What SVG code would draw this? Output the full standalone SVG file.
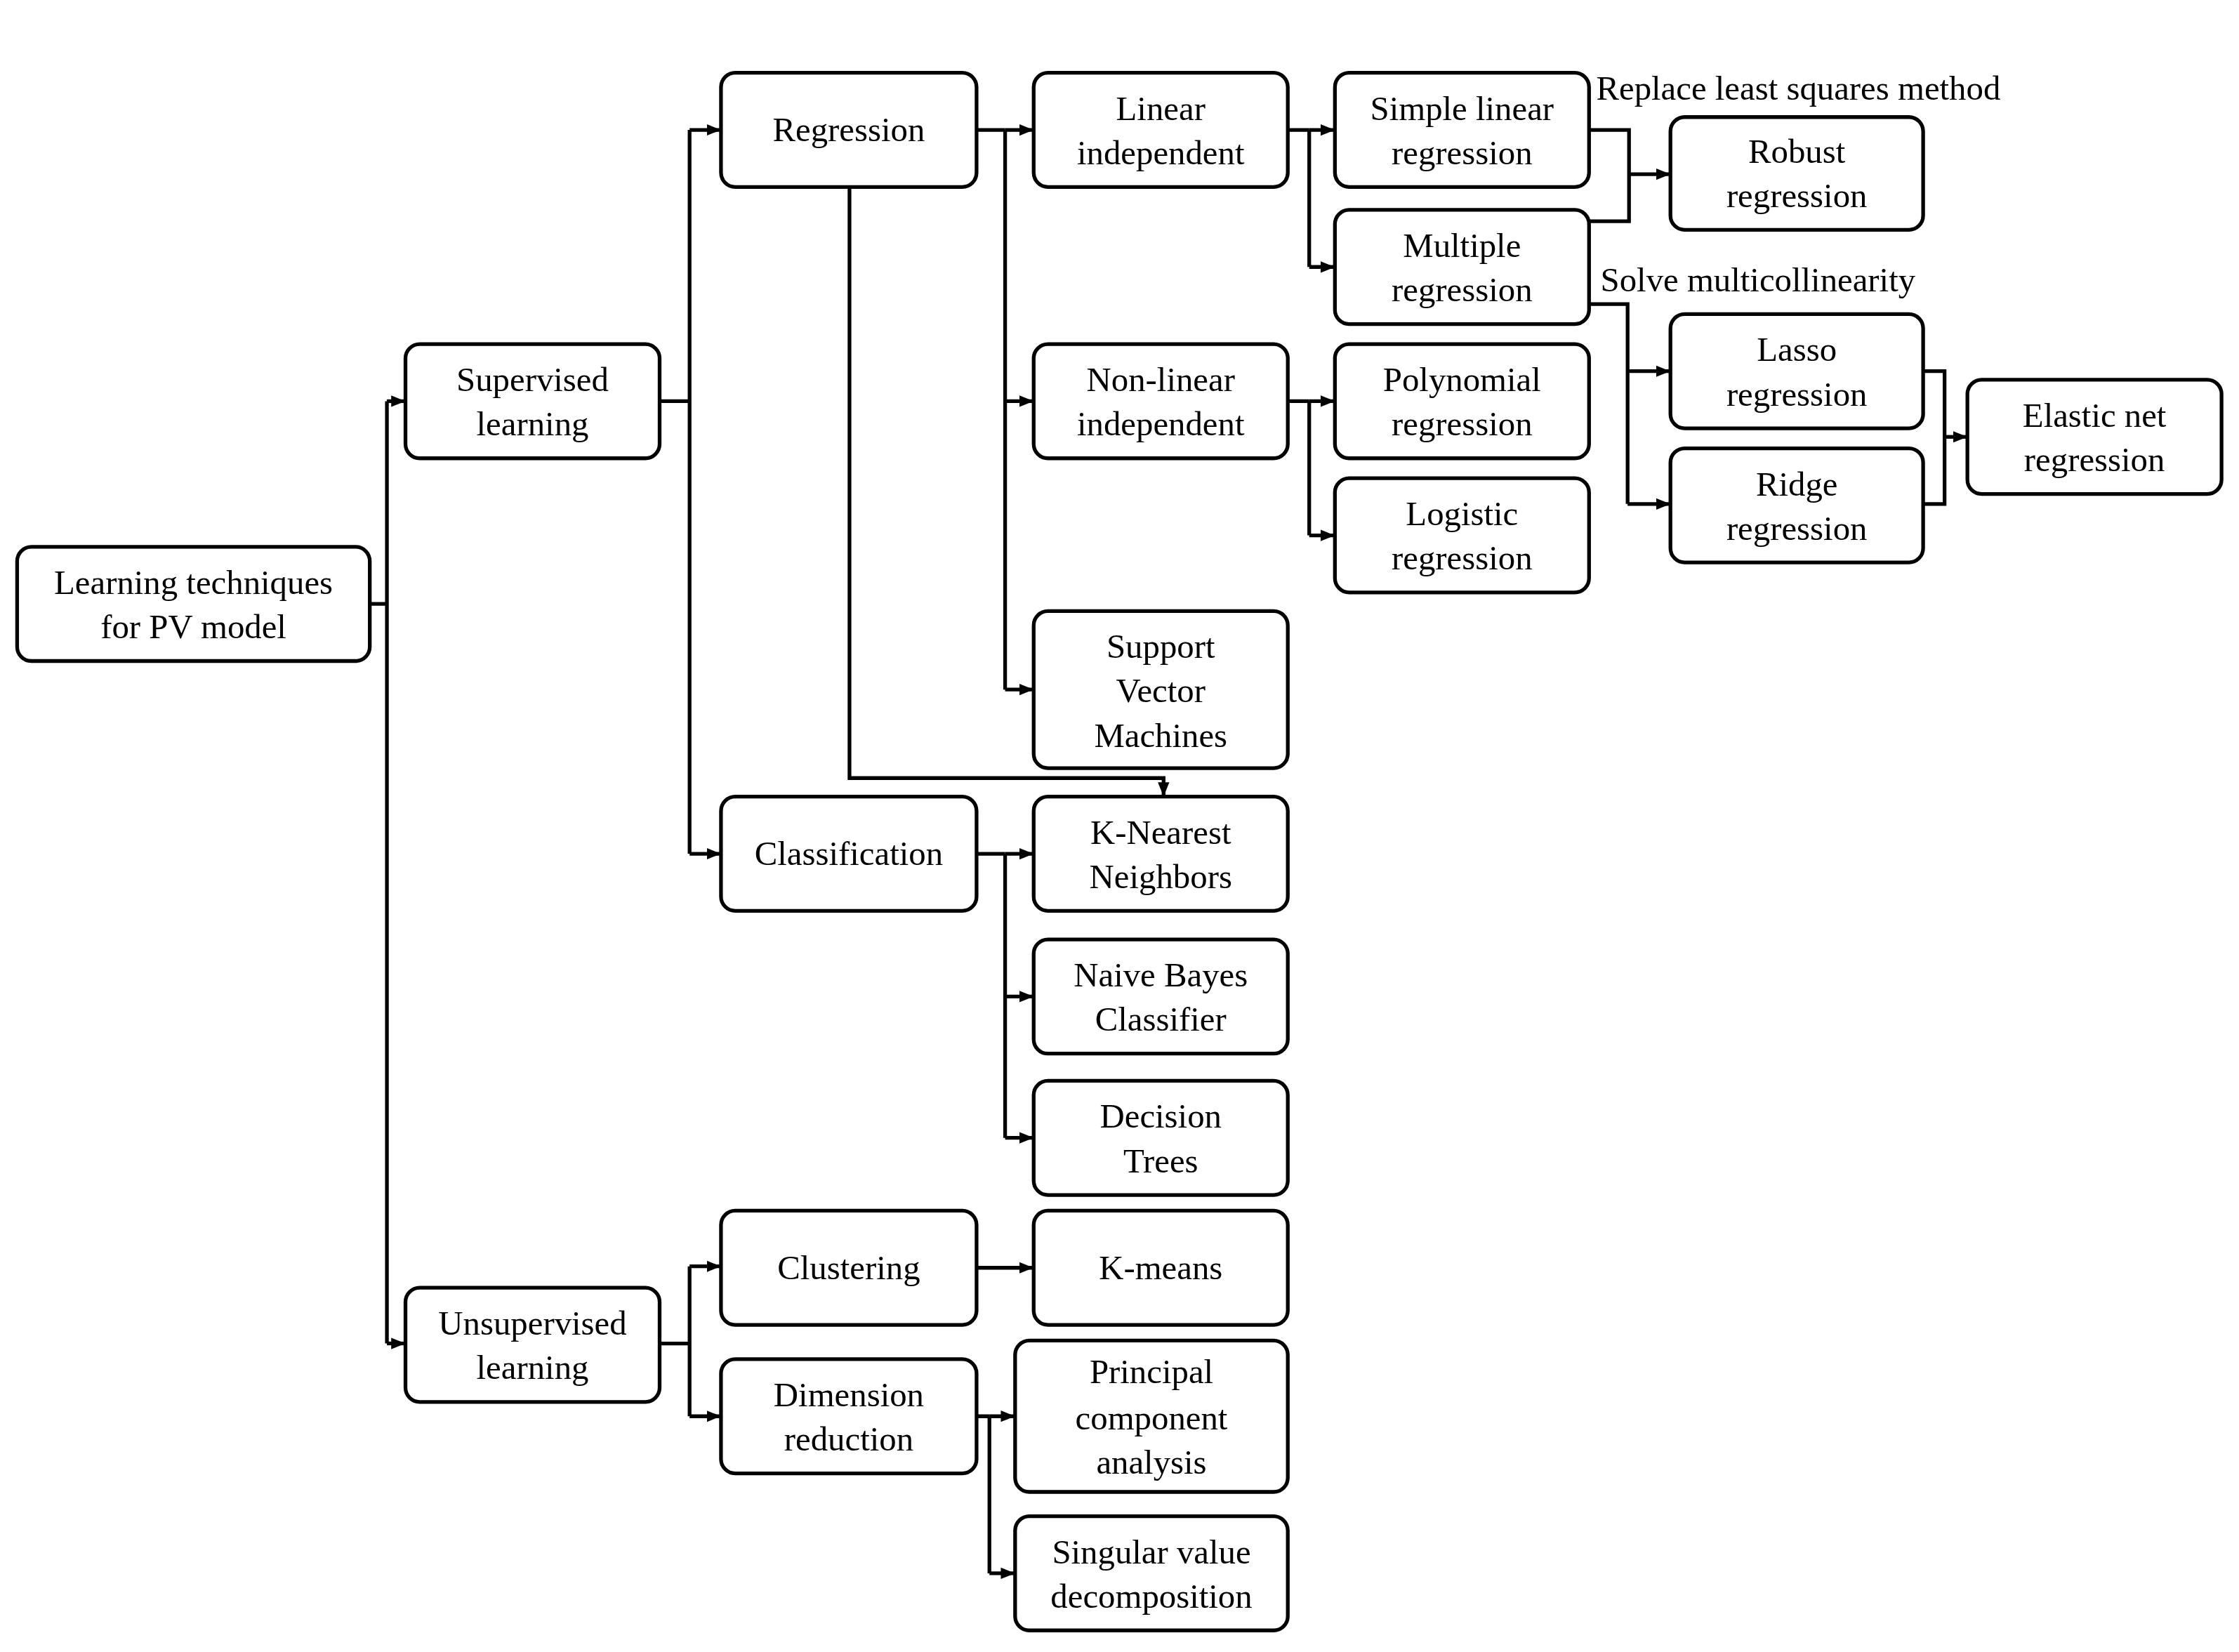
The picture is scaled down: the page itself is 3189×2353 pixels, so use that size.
<svg xmlns="http://www.w3.org/2000/svg" width="3189" height="2353" viewBox="0 0 3189 2353">
<defs>
<style>
.b{fill:#fff;stroke:#000;stroke-width:2.6}
.t{font-family:"Liberation Serif","Times New Roman",serif;font-size:24px;fill:#000;text-anchor:middle}
.l{font-family:"Liberation Serif","Times New Roman",serif;font-size:24px;fill:#000}
.c{fill:none;stroke:#000;stroke-width:2.6}
</style>
<marker id="a" markerWidth="10" markerHeight="10" refX="9" refY="5" orient="auto" markerUnits="userSpaceOnUse"><path d="M0,1 L10,5 L0,9 Z" fill="#000"/></marker>
</defs>
<rect width="3189" height="2353" fill="#fff"/>
<g transform="scale(2.0335)">
<g id="connectors">
<path class="c" d="M259,423 H271 M271,281 V941"/>
<path class="c" d="M271,281 H283" marker-end="url(#a)"/>
<path class="c" d="M271,941 H283" marker-end="url(#a)"/>
<path class="c" d="M462,281 H483 M483,91 V598"/>
<path class="c" d="M483,91 H504" marker-end="url(#a)"/>
<path class="c" d="M483,598 H504" marker-end="url(#a)"/>
<path class="c" d="M684,91 H704 M704,91 V483"/>
<path class="c" d="M704,91 H723" marker-end="url(#a)"/>
<path class="c" d="M704,281 H723" marker-end="url(#a)"/>
<path class="c" d="M704,483 H723" marker-end="url(#a)"/>
<path class="c" d="M595,131 V545 H815 V557" marker-end="url(#a)"/>
<path class="c" d="M684,598 H704 M704,598 V797"/>
<path class="c" d="M704,598 H723" marker-end="url(#a)"/>
<path class="c" d="M704,698 H723" marker-end="url(#a)"/>
<path class="c" d="M704,797 H723" marker-end="url(#a)"/>
<path class="c" d="M462,941 H483 M483,887 V992"/>
<path class="c" d="M483,887 H504" marker-end="url(#a)"/>
<path class="c" d="M483,992 H504" marker-end="url(#a)"/>
<path class="c" d="M684,888 H723" marker-end="url(#a)"/>
<path class="c" d="M684,992 H693 M693,992 V1102"/>
<path class="c" d="M693,992 H710" marker-end="url(#a)"/>
<path class="c" d="M693,1102 H710" marker-end="url(#a)"/>
<path class="c" d="M902,91 H917 M917,91 V187"/>
<path class="c" d="M917,91 H934" marker-end="url(#a)"/>
<path class="c" d="M917,187 H934" marker-end="url(#a)"/>
<path class="c" d="M902,281 H917 M917,281 V375"/>
<path class="c" d="M917,281 H934" marker-end="url(#a)"/>
<path class="c" d="M917,375 H934" marker-end="url(#a)"/>
<path class="c" d="M1113,91 H1141 V155 H1113"/>
<path class="c" d="M1141,122 H1169" marker-end="url(#a)"/>
<path class="c" d="M1113,213 H1140 V353"/>
<path class="c" d="M1140,260 H1169" marker-end="url(#a)"/>
<path class="c" d="M1140,353 H1169" marker-end="url(#a)"/>
<path class="c" d="M1347,260 H1362 V353 H1347"/>
<path class="c" d="M1362,306 H1377" marker-end="url(#a)"/>
</g>
<text class="l" x="1118" y="70">Replace least squares method</text>
<text class="l" x="1121" y="204">Solve multicollinearity</text>
<g id="root"><rect class="b" x="12" y="383" width="247" height="80" rx="10"/><text class="t" x="135.5" y="416">Learning techniques</text><text class="t" x="135.5" y="447">for PV model</text></g>
<g id="supervised"><rect class="b" x="284" y="241" width="178" height="80" rx="10"/><text class="t" x="373" y="274">Supervised</text><text class="t" x="373" y="305">learning</text></g>
<g id="unsupervised"><rect class="b" x="284" y="902" width="178" height="80" rx="10"/><text class="t" x="373" y="935">Unsupervised</text><text class="t" x="373" y="966">learning</text></g>
<g id="regression"><rect class="b" x="505" y="51" width="179" height="80" rx="10"/><text class="t" x="594.5" y="99">Regression</text></g>
<g id="classification"><rect class="b" x="505" y="558" width="179" height="80" rx="10"/><text class="t" x="594.5" y="606">Classification</text></g>
<g id="clustering"><rect class="b" x="505" y="848" width="179" height="80" rx="10"/><text class="t" x="594.5" y="896">Clustering</text></g>
<g id="dimension"><rect class="b" x="505" y="952" width="179" height="80" rx="10"/><text class="t" x="594.5" y="985">Dimension</text><text class="t" x="594.5" y="1016">reduction</text></g>
<g id="linear"><rect class="b" x="724" y="51" width="178" height="80" rx="10"/><text class="t" x="813" y="84">Linear</text><text class="t" x="813" y="115">independent</text></g>
<g id="nonlinear"><rect class="b" x="724" y="241" width="178" height="80" rx="10"/><text class="t" x="813" y="274">Non-linear</text><text class="t" x="813" y="305">independent</text></g>
<g id="svm"><rect class="b" x="724" y="428" width="178" height="110" rx="10"/><text class="t" x="813" y="461">Support</text><text class="t" x="813" y="492">Vector</text><text class="t" x="813" y="523">Machines</text></g>
<g id="knn"><rect class="b" x="724" y="558" width="178" height="80" rx="10"/><text class="t" x="813" y="591">K-Nearest</text><text class="t" x="813" y="622">Neighbors</text></g>
<g id="nb"><rect class="b" x="724" y="658" width="178" height="80" rx="10"/><text class="t" x="813" y="691">Naive Bayes</text><text class="t" x="813" y="722">Classifier</text></g>
<g id="dt"><rect class="b" x="724" y="757" width="178" height="80" rx="10"/><text class="t" x="813" y="790">Decision</text><text class="t" x="813" y="821">Trees</text></g>
<g id="kmeans"><rect class="b" x="724" y="848" width="178" height="80" rx="10"/><text class="t" x="813" y="896">K-means</text></g>
<g id="pca"><rect class="b" x="711" y="939" width="191" height="106" rx="10"/><text class="t" x="806.5" y="969">Principal</text><text class="t" x="806.5" y="1001">component</text><text class="t" x="806.5" y="1032">analysis</text></g>
<g id="svd"><rect class="b" x="711" y="1062" width="191" height="80" rx="10"/><text class="t" x="806.5" y="1095">Singular value</text><text class="t" x="806.5" y="1126">decomposition</text></g>
<g id="simple"><rect class="b" x="935" y="51" width="178" height="80" rx="10"/><text class="t" x="1024" y="84">Simple linear</text><text class="t" x="1024" y="115">regression</text></g>
<g id="multiple"><rect class="b" x="935" y="147" width="178" height="80" rx="10"/><text class="t" x="1024" y="180">Multiple</text><text class="t" x="1024" y="211">regression</text></g>
<g id="polynomial"><rect class="b" x="935" y="241" width="178" height="80" rx="10"/><text class="t" x="1024" y="274">Polynomial</text><text class="t" x="1024" y="305">regression</text></g>
<g id="logistic"><rect class="b" x="935" y="335" width="178" height="80" rx="10"/><text class="t" x="1024" y="368">Logistic</text><text class="t" x="1024" y="399">regression</text></g>
<g id="robust"><rect class="b" x="1170" y="82" width="177" height="79" rx="10"/><text class="t" x="1258.5" y="114">Robust</text><text class="t" x="1258.5" y="145">regression</text></g>
<g id="lasso"><rect class="b" x="1170" y="220" width="177" height="80" rx="10"/><text class="t" x="1258.5" y="253">Lasso</text><text class="t" x="1258.5" y="284">regression</text></g>
<g id="ridge"><rect class="b" x="1170" y="314" width="177" height="80" rx="10"/><text class="t" x="1258.5" y="347">Ridge</text><text class="t" x="1258.5" y="378">regression</text></g>
<g id="elastic"><rect class="b" x="1378" y="266" width="178" height="80" rx="10"/><text class="t" x="1467" y="299">Elastic net</text><text class="t" x="1467" y="330">regression</text></g>
</g>
</svg>
